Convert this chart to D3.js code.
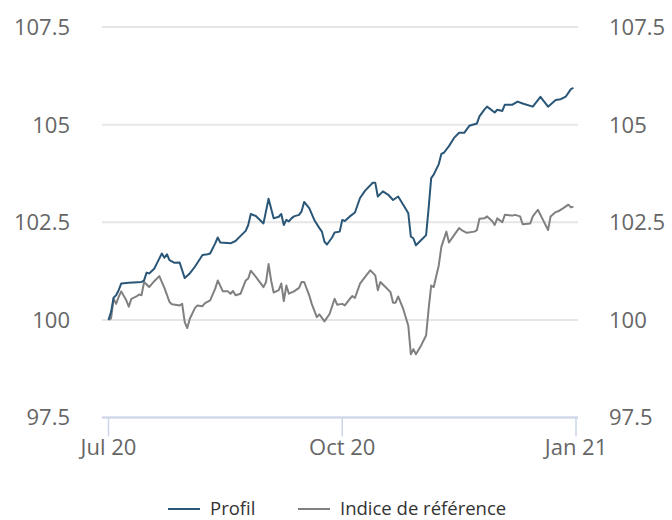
<!DOCTYPE html>
<html>
<head>
<meta charset="utf-8">
<script src="https://cdn.jsdelivr.net/npm/d3@7"></script>
<style>
  html, body { margin: 0; padding: 0; background: #fff; }
  svg { display: block; font-family: "Open Sans", "Noto Sans", sans-serif; }
</style>
</head>
<body>
<script>
// series: [date, value]
const profil = [
  ["2020-07-01", 100.00], ["2020-07-02", 100.20], ["2020-07-03", 100.57], ["2020-07-04", 100.63],
  ["2020-07-05", 100.76], ["2020-07-06", 100.93], ["2020-07-09", 100.95], ["2020-07-14", 100.97],
  ["2020-07-15", 101.01], ["2020-07-16", 101.21], ["2020-07-17", 101.19], ["2020-07-19", 101.31],
  ["2020-07-20", 101.44], ["2020-07-22", 101.70], ["2020-07-23", 101.59], ["2020-07-24", 101.68],
  ["2020-07-25", 101.53], ["2020-07-27", 101.46], ["2020-07-29", 101.47], ["2020-07-31", 101.07],
  ["2020-08-02", 101.19], ["2020-08-04", 101.36], ["2020-08-07", 101.66], ["2020-08-09", 101.68],
  ["2020-08-10", 101.70], ["2020-08-12", 101.96], ["2020-08-13", 102.11], ["2020-08-14", 101.98],
  ["2020-08-18", 101.96], ["2020-08-20", 102.02], ["2020-08-22", 102.15], ["2020-08-24", 102.28],
  ["2020-08-25", 102.43], ["2020-08-26", 102.71], ["2020-08-28", 102.66], ["2020-08-31", 102.47],
  ["2020-09-02", 103.10], ["2020-09-04", 102.60], ["2020-09-06", 102.64], ["2020-09-07", 102.71],
  ["2020-09-08", 102.43], ["2020-09-09", 102.56], ["2020-09-10", 102.52], ["2020-09-11", 102.60],
  ["2020-09-12", 102.65], ["2020-09-14", 102.69], ["2020-09-15", 102.78], ["2020-09-16", 103.02],
  ["2020-09-18", 102.86], ["2020-09-20", 102.56], ["2020-09-22", 102.35], ["2020-09-23", 102.26],
  ["2020-09-24", 102.00], ["2020-09-25", 101.93], ["2020-09-27", 102.11], ["2020-09-28", 102.24],
  ["2020-09-30", 102.26], ["2020-10-01", 102.56], ["2020-10-02", 102.53], ["2020-10-04", 102.65],
  ["2020-10-06", 102.75], ["2020-10-08", 103.12], ["2020-10-10", 103.31], ["2020-10-13", 103.51],
  ["2020-10-14", 103.51], ["2020-10-15", 103.16], ["2020-10-17", 103.29], ["2020-10-19", 103.21],
  ["2020-10-21", 103.07], ["2020-10-23", 103.16], ["2020-10-25", 102.95], ["2020-10-27", 102.73],
  ["2020-10-28", 102.13], ["2020-10-29", 102.09], ["2020-10-30", 101.91], ["2020-11-01", 102.04],
  ["2020-11-03", 102.17], ["2020-11-04", 102.86], ["2020-11-05", 103.63], ["2020-11-06", 103.72],
  ["2020-11-08", 103.99], ["2020-11-09", 104.25], ["2020-11-10", 104.28], ["2020-11-12", 104.45],
  ["2020-11-14", 104.66], ["2020-11-16", 104.79], ["2020-11-18", 104.79], ["2020-11-20", 104.97],
  ["2020-11-23", 105.03], ["2020-11-24", 105.21], ["2020-11-26", 105.39], ["2020-11-27", 105.46],
  ["2020-11-30", 105.31], ["2020-12-01", 105.38], ["2020-12-03", 105.35], ["2020-12-04", 105.51],
  ["2020-12-07", 105.51], ["2020-12-09", 105.59], ["2020-12-11", 105.54], ["2020-12-15", 105.46],
  ["2020-12-18", 105.71], ["2020-12-19", 105.63], ["2020-12-21", 105.46], ["2020-12-24", 105.63],
  ["2020-12-26", 105.65], ["2020-12-28", 105.72], ["2020-12-30", 105.91], ["2020-12-31", 105.94]
];

const indice = [
  ["2020-07-01", 100.00], ["2020-07-02", 100.04], ["2020-07-03", 100.54], ["2020-07-04", 100.41],
  ["2020-07-05", 100.59], ["2020-07-06", 100.73], ["2020-07-08", 100.50], ["2020-07-09", 100.34],
  ["2020-07-10", 100.54], ["2020-07-12", 100.60], ["2020-07-13", 100.65], ["2020-07-14", 100.63],
  ["2020-07-15", 100.97], ["2020-07-17", 100.84], ["2020-07-19", 100.99], ["2020-07-21", 101.12],
  ["2020-07-23", 100.82], ["2020-07-25", 100.46], ["2020-07-26", 100.40], ["2020-07-29", 100.37],
  ["2020-07-30", 100.41], ["2020-07-31", 99.94], ["2020-08-01", 99.79], ["2020-08-02", 100.03],
  ["2020-08-04", 100.30], ["2020-08-05", 100.37], ["2020-08-07", 100.35], ["2020-08-08", 100.43],
  ["2020-08-10", 100.50], ["2020-08-12", 100.80], ["2020-08-13", 101.01], ["2020-08-15", 100.73],
  ["2020-08-17", 100.73], ["2020-08-18", 100.67], ["2020-08-19", 100.74], ["2020-08-20", 100.63],
  ["2020-08-22", 100.67], ["2020-08-24", 101.01], ["2020-08-25", 101.06], ["2020-08-26", 101.26],
  ["2020-08-28", 101.10], ["2020-08-30", 100.93], ["2020-08-31", 100.84], ["2020-09-01", 100.97],
  ["2020-09-02", 101.43], ["2020-09-03", 101.01], ["2020-09-04", 100.70], ["2020-09-06", 100.76],
  ["2020-09-07", 100.93], ["2020-09-08", 100.48], ["2020-09-09", 100.88], ["2020-09-10", 100.67],
  ["2020-09-12", 100.73], ["2020-09-14", 100.82], ["2020-09-15", 100.97], ["2020-09-16", 100.97],
  ["2020-09-18", 100.63], ["2020-09-19", 100.41], ["2020-09-21", 100.07], ["2020-09-22", 100.14],
  ["2020-09-24", 99.96], ["2020-09-26", 100.15], ["2020-09-28", 100.54], ["2020-09-29", 100.39],
  ["2020-10-01", 100.41], ["2020-10-02", 100.37], ["2020-10-04", 100.54], ["2020-10-05", 100.61],
  ["2020-10-06", 100.56], ["2020-10-08", 100.93], ["2020-10-10", 101.10], ["2020-10-12", 101.27],
  ["2020-10-14", 101.14], ["2020-10-15", 100.76], ["2020-10-16", 100.97], ["2020-10-18", 100.84],
  ["2020-10-20", 100.71], ["2020-10-21", 100.44], ["2020-10-22", 100.44], ["2020-10-23", 100.60],
  ["2020-10-25", 100.28], ["2020-10-27", 99.85], ["2020-10-28", 99.12], ["2020-10-29", 99.25],
  ["2020-10-30", 99.12], ["2020-11-01", 99.34], ["2020-11-03", 99.60], ["2020-11-04", 100.28],
  ["2020-11-05", 100.88], ["2020-11-06", 100.84], ["2020-11-08", 101.40], ["2020-11-09", 101.87],
  ["2020-11-11", 102.26], ["2020-11-12", 101.98], ["2020-11-14", 102.17], ["2020-11-16", 102.35],
  ["2020-11-17", 102.30], ["2020-11-19", 102.23], ["2020-11-22", 102.26], ["2020-11-23", 102.30],
  ["2020-11-24", 102.59], ["2020-11-26", 102.60], ["2020-11-27", 102.65], ["2020-11-29", 102.53],
  ["2020-11-30", 102.43], ["2020-12-01", 102.60], ["2020-12-03", 102.50], ["2020-12-04", 102.69],
  ["2020-12-07", 102.67], ["2020-12-08", 102.69], ["2020-12-10", 102.65], ["2020-12-11", 102.45],
  ["2020-12-14", 102.47], ["2020-12-15", 102.65], ["2020-12-17", 102.82], ["2020-12-19", 102.56],
  ["2020-12-21", 102.30], ["2020-12-22", 102.65], ["2020-12-24", 102.76], ["2020-12-25", 102.78],
  ["2020-12-27", 102.86], ["2020-12-29", 102.95], ["2020-12-30", 102.88], ["2020-12-31", 102.90]
];

const yTicks = [97.5, 100, 102.5, 105, 107.5];
const xTicks = ["2020-07-01", "2020-10-01", "2021-01-01"];
const xTickLabels = ["Jul 20", "Oct 20", "Jan 21"];
const seriesNames = ["Profil", "Indice de référence"];
const seriesColors = ["#2a5677", "#808080"];

const W = 672, H = 520;
const parse = d3.timeParse("%Y-%m-%d");

const svg = d3.select("body").append("svg")
    .attr("width", W)
    .attr("height", H);

// scales
const x = d3.scaleTime()
    .domain([parse("2020-07-01"), parse("2021-01-01")])
    .range([108.5, 576]);
const y = d3.scaleLinear()
    .domain([97.5, 107.5])
    .range([417.5, 27]);

const plotLeft = 102, plotRight = 578;

// grid lines
svg.append("g").selectAll("line")
    .data(yTicks)
    .enter().append("line")
    .attr("x1", plotLeft).attr("x2", plotRight)
    .attr("y1", d => y(d)).attr("y2", d => y(d))
    .attr("stroke", "#e6e6e6")
    .attr("stroke-width", 2);

// y labels, both sides
const fmt = d => String(d);
svg.append("g").selectAll("text")
    .data(yTicks)
    .enter().append("text")
    .attr("x", 70).attr("y", d => y(d))
    .attr("dy", "0.36em")
    .attr("text-anchor", "end")
    .attr("font-size", 22)
    .attr("fill", "#666")
    .text(fmt);
svg.append("g").selectAll("text")
    .data(yTicks)
    .enter().append("text")
    .attr("x", 609).attr("y", d => y(d))
    .attr("dy", "0.36em")
    .attr("text-anchor", "start")
    .attr("font-size", 22)
    .attr("fill", "#666")
    .text(fmt);

// x axis line + ticks
svg.append("line")
    .attr("x1", plotLeft).attr("x2", plotRight)
    .attr("y1", y(97.5)).attr("y2", y(97.5))
    .attr("stroke", "#ccd6eb")
    .attr("stroke-width", 2);
const xg = svg.append("g");
xg.selectAll("line")
    .data(xTicks)
    .enter().append("line")
    .attr("x1", d => x(parse(d))).attr("x2", d => x(parse(d)))
    .attr("y1", y(97.5)).attr("y2", y(97.5) + 19)
    .attr("stroke", "#ccd6eb")
    .attr("stroke-width", 1.5);
xg.selectAll("text")
    .data(xTicks)
    .enter().append("text")
    .attr("x", d => x(parse(d)))
    .attr("y", 455)
    .attr("text-anchor", "middle")
    .attr("font-size", 22)
    .attr("fill", "#666")
    .text((d, i) => xTickLabels[i]);

// lines
const line = d3.line()
    .x(d => x(parse(d[0])))
    .y(d => y(d[1]));

[indice, profil].forEach(function(s, k) {
    svg.append("path")
        .datum(s)
        .attr("fill", "none")
        .attr("stroke", seriesColors[1 - k])
        .attr("stroke-width", 2)
        .attr("stroke-linejoin", "round")
        .attr("d", line);
});

// legend
const legendX = [168, 298];
const lg = svg.append("g");
seriesNames.forEach(function(name, i) {
    lg.append("line")
        .attr("x1", legendX[i]).attr("x2", legendX[i] + 32)
        .attr("y1", 509).attr("y2", 509)
        .attr("stroke", seriesColors[i])
        .attr("stroke-width", 2);
    lg.append("text")
        .attr("x", legendX[i] + 42)
        .attr("y", 515)
        .attr("font-size", 18.5)
        .attr("fill", "#333")
        .text(name);
});
</script>
</body>
</html>
